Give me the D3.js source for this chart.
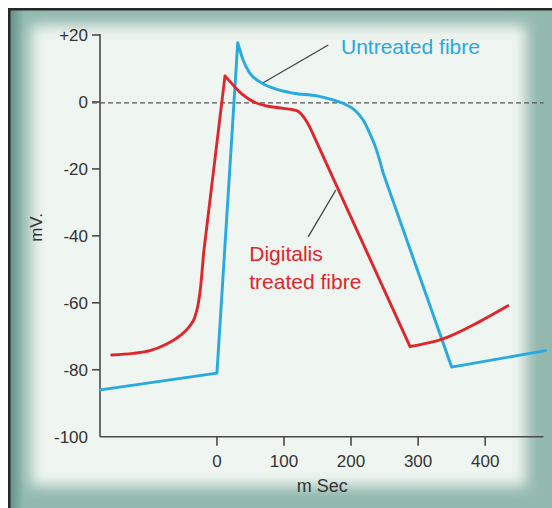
<!DOCTYPE html>
<html>
<head>
<meta charset="utf-8">
<script src="https://cdn.jsdelivr.net/npm/d3@7"></script>
<style>
  html, body { margin: 0; padding: 0; background: #ffffff; }
  svg { display: block; font-family: "Liberation Sans", Arial, Helvetica, sans-serif; }
</style>
</head>
<body>
<svg id="chart" width="552" height="508"></svg>
<script>
// ---- data (x: m Sec, y: mV) ----
const untreatedX = [-174, 0, 31, 39, 49, 64, 84, 114, 149, 173, 188, 208, 218, 228, 238, 248, 350, 490];
const untreatedY = [-86, -81, 17.7, 12.5, 8.6, 6.0, 4.1, 2.6, 1.8, 0.6, -0.4, -2.9, -5.4, -9.4, -14.4, -21.3, -79.2, -74.3];
const untreatedCorners = [1, 2, 15, 16];

const digitalisX = [-157, -125, -100, -75, -55, -40, -33, -28, -25, -20, 12, 24, 39, 54, 74, 99, 119, 134, 146, 288, 337, 391, 434];
const digitalisY = [-75.6, -75.1, -74.3, -72.3, -69.8, -66.8, -64.3, -60.4, -56.4, -45.4, 7.8, 5.1, 2.1, 0.1, -1.2, -1.9, -2.6, -5.9, -10.8, -73.1, -70.8, -65.7, -60.9];
const digitalisCorners = [9, 10, 18, 19];

const yTickValues = [20, 0, -20, -40, -60, -80, -100];
const yTickLabels = ["+20", "0", "-20", "-40", "-60", "-80", "-100"];
const xTickValues = [0, 100, 200, 300, 400];
const xTickLabels = ["0", "100", "200", "300", "400"];

const xDomain = [-174.4, 487];
const yDomain = [-100, 20];

const seriesNames = ["Untreated fibre", "Digitalis", "treated fibre"];
const xLabel = "m Sec";
const yLabel = "mV.";

// ---- layout ----
const svg = d3.select("#chart");
const W = 552, H = 508;
const x = d3.scaleLinear().domain(xDomain).range([100, 543.5]);
const y = d3.scaleLinear().domain(yDomain).range([436.7, 35]);

const blue = "#27a9e1";
const red = "#e0262d";
const ink = "#333333";

// ---- frame ----
const defs = svg.append("defs");
const blur = defs.append("filter").attr("id", "soft")
  .attr("x", "-10%").attr("y", "-10%").attr("width", "120%").attr("height", "120%");
blur.append("feGaussianBlur").attr("stdDeviation", 7);

const leftGrad = defs.append("linearGradient").attr("id", "leftEdge")
  .attr("x1", "0").attr("x2", "1").attr("y1", "0").attr("y2", "0");
leftGrad.append("stop").attr("offset", "0").attr("stop-color", "#5f8c82").attr("stop-opacity", 0.9);
leftGrad.append("stop").attr("offset", "1").attr("stop-color", "#5f8c82").attr("stop-opacity", 0);

svg.append("rect").attr("x", 0).attr("y", 0).attr("width", W).attr("height", H).attr("fill", "#ffffff");
svg.append("rect").attr("x", 10).attr("y", 10).attr("width", W - 10).attr("height", H - 10)
  .attr("fill", "#93b9af");
svg.append("rect").attr("x", 10).attr("y", 10).attr("width", 14).attr("height", H - 10)
  .attr("fill", "url(#leftEdge)");
svg.append("rect").attr("x", 31).attr("y", 25).attr("width", 495).attr("height", 461)
  .attr("fill", "#eff5f0").attr("filter", "url(#soft)");
svg.append("rect").attr("x", 9.25).attr("y", 9.25).attr("width", W).attr("height", H)
  .attr("fill", "none").attr("stroke", "#262626").attr("stroke-width", 2.5);

// ---- axes ----
const g = svg.append("g");
g.append("line").attr("x1", x(xDomain[0])).attr("x2", x(xDomain[0]))
  .attr("y1", y(yDomain[1]) - 1).attr("y2", y(yDomain[0]))
  .attr("stroke", "#4a4a4a").attr("stroke-width", 1.6);
g.append("line").attr("x1", x(xDomain[0])).attr("x2", x(xDomain[1]))
  .attr("y1", y(yDomain[0])).attr("y2", y(yDomain[0]))
  .attr("stroke", "#4a4a4a").attr("stroke-width", 1.6);

yTickValues.forEach((v, i) => {
  const yy = y(v);
  if (v !== yDomain[0]) {
    g.append("line").attr("x1", x(xDomain[0]) - 8).attr("x2", x(xDomain[0]))
      .attr("y1", yy).attr("y2", yy).attr("stroke", "#4a4a4a").attr("stroke-width", 1.6);
  }
  g.append("text").attr("x", x(xDomain[0]) - 12).attr("y", yy + 6)
    .attr("text-anchor", "end").attr("font-size", 17).attr("fill", ink)
    .text(yTickLabels[i]);
});

xTickValues.forEach((v, i) => {
  const xx = x(v);
  g.append("line").attr("x1", xx).attr("x2", xx)
    .attr("y1", y(yDomain[0])).attr("y2", y(yDomain[0]) + 9)
    .attr("stroke", "#4a4a4a").attr("stroke-width", 1.6);
  g.append("text").attr("x", xx).attr("y", 467)
    .attr("text-anchor", "middle").attr("font-size", 17).attr("fill", ink)
    .text(xTickLabels[i]);
});

g.append("text").attr("x", x(157)).attr("y", 492)
  .attr("text-anchor", "middle").attr("font-size", 18).attr("fill", ink).text(xLabel);
g.append("text").attr("transform", `translate(42,${y(-37.5)}) rotate(-90)`)
  .attr("text-anchor", "middle").attr("font-size", 17).attr("fill", ink).text(yLabel);

// zero dashed line
g.append("line").attr("x1", x(xDomain[0]) - 8).attr("x2", x(xDomain[1]))
  .attr("y1", y(0) + 1).attr("y2", y(0) + 1)
  .attr("stroke", "#555").attr("stroke-width", 1.3).attr("stroke-dasharray", "5,3");

// ---- curves: smooth between corner points, sharp at corners ----
const smooth = d3.line().x(d => x(d[0])).y(d => y(d[1])).curve(d3.curveMonotoneX);
function cornerPath(xs, ys, corners) {
  const pts = xs.map((v, i) => [v, ys[i]]);
  const cuts = [0, ...corners, pts.length - 1];
  let d = "";
  for (let k = 0; k < cuts.length - 1; k++) {
    d += smooth(pts.slice(cuts[k], cuts[k + 1] + 1));
  }
  return d;
}

g.append("path").attr("d", cornerPath(untreatedX, untreatedY, untreatedCorners)).attr("fill", "none")
  .attr("stroke", blue).attr("stroke-width", 2.9)
  .attr("stroke-linejoin", "round").attr("stroke-linecap", "round");
g.append("path").attr("d", cornerPath(digitalisX, digitalisY, digitalisCorners)).attr("fill", "none")
  .attr("stroke", red).attr("stroke-width", 2.9)
  .attr("stroke-linejoin", "round").attr("stroke-linecap", "round");

// ---- annotations ----
g.append("line").attr("x1", x(69)).attr("y1", y(5.75)).attr("x2", x(166)).attr("y2", y(17))
  .attr("stroke", "#444").attr("stroke-width", 1.3);
g.append("line").attr("x1", x(136)).attr("y1", y(-40.3)).attr("x2", x(177.4)).attr("y2", y(-26.3))
  .attr("stroke", "#444").attr("stroke-width", 1.3);

g.append("text").attr("x", x(185)).attr("y", y(14.3)).attr("font-size", 21)
  .attr("fill", blue).text(seriesNames[0]);
g.append("text").attr("x", x(48.2)).attr("y", y(-47.5)).attr("font-size", 21)
  .attr("fill", red).text(seriesNames[1]);
g.append("text").attr("x", x(48.2)).attr("y", y(-56)).attr("font-size", 21)
  .attr("fill", red).text(seriesNames[2]);
</script>
</body>
</html>
